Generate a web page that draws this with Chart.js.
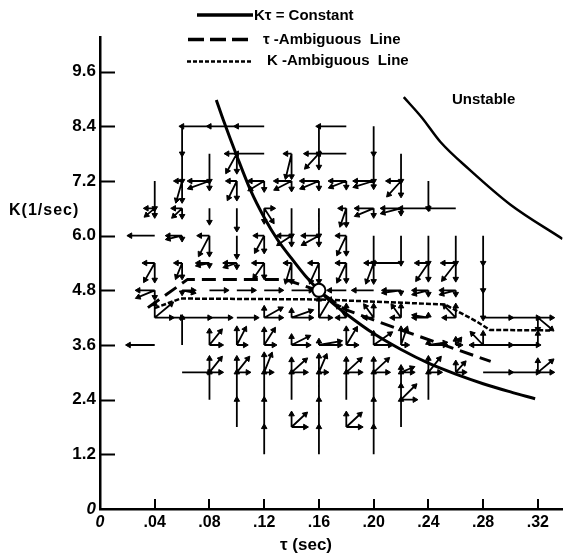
<!DOCTYPE html>
<html>
<head>
<meta charset="utf-8">
<script src="https://cdn.jsdelivr.net/npm/chart.js@4.4.1/dist/chart.umd.min.js"></script>
<style>
  html, body { margin: 0; padding: 0; background: #fff; }
  #wrap { width: 571px; height: 553px; }
</style>
</head>
<body>
<div id="wrap"><canvas id="chart" width="571" height="553"></canvas></div>
<script>
// axis ticks
const tauTicks = [0, 0.04, 0.08, 0.12, 0.16, 0.20, 0.24, 0.28, 0.32];
const tauLabels = ["0", ".04", ".08", ".12", ".16", ".20", ".24", ".28", ".32"];
const kTicks = [0, 1.2, 2.4, 3.6, 4.8, 6.0, 7.2, 8.4, 9.6];
const kLabels = ["0", "1.2", "2.4", "3.6", "4.8", "6.0", "7.2", "8.4", "9.6"];

// K*tau = constant curve
const constTau = [0.085, 0.09, 0.10, 0.11, 0.12, 0.13, 0.14, 0.15, 0.16, 0.17, 0.18, 0.20, 0.22, 0.24, 0.26, 0.28, 0.30, 0.318];
const constK = [8.98, 8.55, 7.75, 7.0, 6.4, 5.9, 5.5, 5.12, 4.8, 4.52, 4.28, 3.85, 3.5, 3.2, 2.96, 2.75, 2.57, 2.42];

// stability boundary
const unstableTau = [0.222, 0.235, 0.249, 0.27, 0.30, 0.338];
const unstableK = [9.04, 8.6, 8.05, 7.45, 6.68, 5.93];

// tau-ambiguous line (dashed)
const tauAmbTau = [0.035, 0.064, 0.135, 0.159, 0.179, 0.22, 0.2855];
const tauAmbK = [4.42, 5.04, 5.04, 4.8, 4.38, 3.93, 3.24];

// K-ambiguous line (dotted)
const kAmbTau = [0.04, 0.059, 0.16, 0.252, 0.275, 0.285, 0.33];
const kAmbK = [4.41, 4.62, 4.6, 4.49, 4.12, 3.93, 3.92];

// optimum point
const optTau = [0.16];
const optK = [4.8];

// adjustment vectors at grid points: [tau, K, dTau, dK]
const glyphs = [
  [0.10, 7.8, -0.007, -0.38], [0.14, 7.8, -0.004, -0.5], [0.16, 7.8, -0.009, -0.29],
  [0.06, 7.2, -0.004, -0.42], [0.08, 7.2, -0.014, -0.15], [0.10, 7.2, -0.006, -0.37],
  [0.12, 7.2, -0.010, -0.18], [0.14, 7.2, -0.011, -0.17], [0.16, 7.2, -0.012, -0.15],
  [0.18, 7.2, -0.011, -0.13], [0.20, 7.2, -0.013, -0.12], [0.22, 7.2, -0.009, -0.30],
  [0.04, 6.6, -0.006, -0.15], [0.06, 6.6, -0.006, -0.17], [0.08, 6.6, 0, -0.3],
  [0.10, 6.6, 0.001, -0.45], [0.12, 6.6, 0.006, -0.28], [0.18, 6.6, -0.004, -0.35],
  [0.20, 6.6, -0.012, -0.15], [0.22, 6.6, -0.013, -0.10],
  [0.06, 6.0, -0.010, -0.07], [0.08, 6.0, -0.007, -0.40], [0.10, 6.0, -0.002, -0.45],
  [0.12, 6.0, -0.006, -0.33], [0.14, 6.0, -0.009, -0.18], [0.16, 6.0, -0.011, -0.18],
  [0.18, 6.0, -0.006, -0.38],
  [0.04, 5.4, -0.007, -0.37], [0.06, 5.4, -0.004, -0.30], [0.08, 5.4, -0.008, -0.05],
  [0.10, 5.4, -0.008, -0.08], [0.12, 5.4, -0.007, -0.30], [0.14, 5.4, -0.004, -0.40],
  [0.16, 5.4, -0.006, -0.40], [0.18, 5.4, -0.006, -0.38], [0.20, 5.4, -0.005, -0.40],
  [0.24, 5.4, -0.008, -0.35], [0.26, 5.4, -0.009, -0.35],
  [0.04, 4.8, -0.012, -0.15], [0.06, 4.8, 0.008, -0.05], [0.08, 4.8, 0.012, 0],
  [0.10, 4.8, 0.012, 0], [0.12, 4.8, 0.012, 0], [0.14, 4.8, 0.014, 0],
  [0.18, 4.8, -0.012, 0], [0.20, 4.8, -0.014, 0], [0.22, 4.8, -0.012, -0.05],
  [0.24, 4.8, -0.010, -0.08], [0.26, 4.8, -0.010, -0.08],
  [0.04, 4.2, 0.012, 0.30], [0.08, 4.2, 0.015, 0.02], [0.10, 4.2, 0.014, 0.02],
  [0.12, 4.2, 0.012, 0.2], [0.14, 4.2, 0.014, 0.15], [0.16, 4.2, 0.008, 0.4],
  [0.18, 4.2, -0.006, 0.25], [0.20, 4.2, -0.006, 0.25], [0.22, 4.2, -0.006, 0.25],
  [0.24, 4.2, -0.010, 0.05], [0.26, 4.2, -0.008, 0.25], [0.32, 4.2, 0.010, -0.25],
  [0.08, 3.6, 0.008, 0.30], [0.10, 3.6, 0.006, 0.35], [0.12, 3.6, 0.007, 0.33],
  [0.14, 3.6, 0.012, 0.18], [0.16, 3.6, 0.015, 0.08], [0.18, 3.6, 0.007, 0.35],
  [0.20, 3.6, 0.012, 0.25], [0.22, 3.6, 0.004, 0.35], [0.24, 3.6, 0.012, 0.05],
  [0.26, 3.6, 0.003, 0.12], [0.28, 3.6, -0.008, 0.25], [0.32, 3.6, 0, 0.25],
  [0.08, 3.0, 0.008, 0.30], [0.10, 3.0, 0.008, 0.30], [0.12, 3.0, 0.005, 0.38],
  [0.14, 3.0, 0.010, 0.27], [0.16, 3.0, 0.005, 0.35], [0.18, 3.0, 0.010, 0.28],
  [0.20, 3.0, 0.010, 0.28], [0.22, 3.0, 0.008, 0.10], [0.24, 3.0, 0.008, 0.30],
  [0.26, 3.0, 0.006, 0.20], [0.32, 3.0, 0.010, 0.25],
  [0.22, 2.4, 0.010, 0.30],
  [0.14, 1.8, 0.010, 0.28], [0.18, 1.8, 0.010, 0.28]
];

// longer moves from one grid point to the next: [tau0, K0, tau1, K1]
const links = [
  [0.12, 8.4, 0.10, 8.4], [0.10, 8.4, 0.08, 8.4], [0.08, 8.4, 0.06, 8.4],
  [0.06, 8.4, 0.06, 7.8], [0.06, 7.8, 0.06, 7.2],
  [0.18, 8.4, 0.16, 8.4], [0.16, 8.4, 0.16, 7.8],
  [0.20, 8.4, 0.20, 7.8], [0.20, 7.8, 0.20, 7.2],
  [0.12, 7.8, 0.10, 7.8], [0.18, 7.8, 0.16, 7.8],
  [0.08, 7.8, 0.08, 7.2], [0.22, 7.8, 0.22, 7.2],
  [0.04, 7.2, 0.04, 6.6],
  [0.24, 7.2, 0.24, 6.6], [0.26, 6.6, 0.24, 6.6], [0.24, 6.6, 0.22, 6.6],
  [0.14, 6.6, 0.14, 6.0], [0.16, 6.6, 0.16, 6.0],
  [0.04, 6.0, 0.022, 6.0],
  [0.20, 6.0, 0.20, 5.4], [0.22, 6.0, 0.22, 5.4], [0.22, 5.4, 0.20, 5.4],
  [0.24, 6.0, 0.24, 5.4], [0.26, 6.0, 0.26, 5.4],
  [0.28, 6.0, 0.28, 5.4], [0.28, 5.4, 0.28, 4.8], [0.28, 4.8, 0.28, 4.2],
  [0.28, 4.2, 0.30, 4.2], [0.30, 4.2, 0.32, 4.2],
  [0.28, 3.6, 0.30, 3.6], [0.30, 3.6, 0.32, 3.6],
  [0.28, 3.0, 0.30, 3.0], [0.30, 3.0, 0.32, 3.0],
  [0.04, 4.2, 0.06, 4.2], [0.06, 4.2, 0.08, 4.2],
  [0.06, 3.6, 0.06, 4.2], [0.04, 3.6, 0.021, 3.6],
  [0.06, 3.0, 0.08, 3.0], [0.08, 2.4, 0.08, 3.0],
  [0.10, 1.8, 0.10, 2.4], [0.10, 2.4, 0.10, 3.0],
  [0.12, 1.2, 0.12, 1.8], [0.12, 1.8, 0.12, 2.4], [0.12, 2.4, 0.12, 3.0],
  [0.14, 2.4, 0.14, 3.0],
  [0.16, 1.2, 0.16, 1.8], [0.16, 1.8, 0.16, 2.4], [0.16, 2.4, 0.16, 3.0],
  [0.18, 2.4, 0.18, 3.0],
  [0.20, 1.2, 0.20, 1.8], [0.20, 1.8, 0.20, 2.4], [0.20, 2.4, 0.20, 3.0],
  [0.22, 1.8, 0.22, 2.4], [0.22, 2.4, 0.22, 3.0],
  [0.24, 2.4, 0.24, 3.0]
];

const FONT = "'Liberation Sans', Arial, sans-serif";

function xy(xs, ys) {
  return xs.map((x, i) => ({ x: x, y: ys[i] }));
}

// turn the vectors into arrow segments, a null y breaks the line between them
const arrowPts = [];
function addArrow(x0, y0, x1, y1) {
  arrowPts.push({ x: x0, y: y0 });
  arrowPts.push({ x: x1, y: y1, head: true, x0: x0, y0: y0 });
  arrowPts.push({ x: x1, y: null });
}
glyphs.forEach(([t, k, dt, dk]) => {
  const hasH = Math.abs(dt) >= 0.003;
  const hasV = Math.abs(dk) >= 0.05;
  if (hasH) addArrow(t, k, t + dt, k);
  if (hasV) addArrow(t, k, t, k + dk);
  if (hasH && hasV) addArrow(t, k, t + dt, k + dk);
});
links.forEach(([t0, k0, t1, k1]) => addArrow(t0, k0, t1, k1));

function headRotation(c) {
  const p = c.raw;
  if (!p || !p.head) return 0;
  const xs = c.chart.scales.x, ys = c.chart.scales.y;
  const dx = xs.getPixelForValue(p.x) - xs.getPixelForValue(p.x0);
  const dy = ys.getPixelForValue(p.y) - ys.getPixelForValue(p.y0);
  return Math.atan2(dx, -dy) * 180 / Math.PI;
}

// inward ticks, legend and axis names
const decor = {
  id: "decor",
  afterDraw(chart) {
    const ctx = chart.ctx;
    const xs = chart.scales.x, ys = chart.scales.y;
    ctx.save();
    ctx.strokeStyle = "#000";
    ctx.fillStyle = "#000";
    ctx.lineWidth = 2;
    ctx.beginPath();
    kTicks.forEach(v => {
      if (v === 0) return;
      const y = Math.round(ys.getPixelForValue(v)) + 0.5;
      ctx.moveTo(xs.left, y);
      ctx.lineTo(xs.left + 15, y);
    });
    tauTicks.forEach(v => {
      if (v === 0) return;
      const x = Math.round(xs.getPixelForValue(v));
      ctx.moveTo(x, ys.bottom);
      ctx.lineTo(x, ys.bottom - 10);
    });
    ctx.stroke();

    // legend
    ctx.lineWidth = 3.5;
    ctx.beginPath(); ctx.moveTo(197, 15); ctx.lineTo(253, 15); ctx.stroke();
    ctx.setLineDash([16, 6]);
    ctx.beginPath(); ctx.moveTo(188, 39.5); ctx.lineTo(248, 39.5); ctx.stroke();
    ctx.lineWidth = 2.5;
    ctx.setLineDash([4, 2]);
    ctx.beginPath(); ctx.moveTo(187, 61.5); ctx.lineTo(252, 61.5); ctx.stroke();
    ctx.setLineDash([]);

    ctx.textBaseline = "middle";
    ctx.textAlign = "left";
    ctx.font = "bold 15px " + FONT;
    ctx.fillText("K\u03c4 = Constant", 254, 16);
    ctx.fillText("\u03c4 -Ambiguous  Line", 263, 40);
    ctx.fillText("K -Ambiguous  Line", 267, 61);

    ctx.fillText("Unstable", 452, 100);

    ctx.font = "bold 16px " + FONT;
    if ("letterSpacing" in ctx) ctx.letterSpacing = "1px";
    ctx.fillText("K(1/sec)", 9, 211);
    if ("letterSpacing" in ctx) ctx.letterSpacing = "0px";

    ctx.textAlign = "center";
    ctx.font = "bold 17px " + FONT;
    ctx.fillText("\u03c4 (sec)", 306, 545);
    ctx.restore();
  }
};

new Chart(document.getElementById("chart"), {
  type: "scatter",
  data: {
    datasets: [
      {
        data: xy(optTau, optK),
        pointRadius: 6.5,
        pointBackgroundColor: "#fff",
        pointBorderColor: "#000",
        pointBorderWidth: 2,
        order: 0
      },
      {
        data: xy(constTau, constK),
        showLine: true,
        borderColor: "#000",
        borderWidth: 3,
        pointRadius: 0,
        cubicInterpolationMode: "monotone",
        order: 1
      },
      {
        data: xy(unstableTau, unstableK),
        showLine: true,
        borderColor: "#000",
        borderWidth: 2.5,
        pointRadius: 0,
        cubicInterpolationMode: "monotone",
        order: 2
      },
      {
        data: xy(tauAmbTau, tauAmbK),
        showLine: true,
        borderColor: "#000",
        borderWidth: 3,
        borderDash: [14, 7],
        pointRadius: 0,
        order: 3
      },
      {
        data: xy(kAmbTau, kAmbK),
        showLine: true,
        borderColor: "#000",
        borderWidth: 2.5,
        borderDash: [5, 2],
        pointRadius: 0,
        order: 4
      },
      {
        data: arrowPts,
        showLine: true,
        spanGaps: false,
        borderColor: "#000",
        borderWidth: 1.8,
        pointStyle: "triangle",
        pointRadius: c => (c.raw && c.raw.head ? 3.2 : 0),
        pointRotation: headRotation,
        pointBackgroundColor: "#000",
        pointBorderColor: "#000",
        pointBorderWidth: 1,
        order: 5
      }
    ]
  },
  options: {
    responsive: false,
    animation: false,
    events: [],
    layout: { padding: { top: 37.5, left: 0, right: 0, bottom: 0 } },
    plugins: { legend: { display: false }, tooltip: { enabled: false } },
    scales: {
      x: {
        type: "linear",
        min: 0,
        max: 0.338,
        afterBuildTicks: s => { s.ticks = tauTicks.map(v => ({ value: v })); },
        afterFit: s => { s.height = 44; },
        grid: { display: false, drawTicks: false },
        border: { display: true, color: "#000", width: 2.5 },
        ticks: {
          autoSkip: false,
          maxRotation: 0,
          padding: 4,
          color: "#000",
          callback: (v, i) => tauLabels[i],
          font: c => ({ family: FONT, size: 16, weight: "bold", style: c.tick && c.tick.value === 0 ? "italic" : "normal" })
        }
      },
      y: {
        type: "linear",
        min: 0,
        max: 10.35,
        afterBuildTicks: s => { s.ticks = kTicks.map(v => ({ value: v })); },
        afterFit: s => { s.width = 100; },
        grid: { display: false, drawTicks: false },
        border: { display: true, color: "#000", width: 2.5 },
        ticks: {
          autoSkip: false,
          padding: 4,
          color: "#000",
          callback: (v, i) => kLabels[i],
          font: c => ({ family: FONT, size: 17, weight: "bold", style: c.tick && c.tick.value === 0 ? "italic" : "normal" })
        }
      }
    }
  },
  plugins: [decor]
});
</script>
</body>
</html>
